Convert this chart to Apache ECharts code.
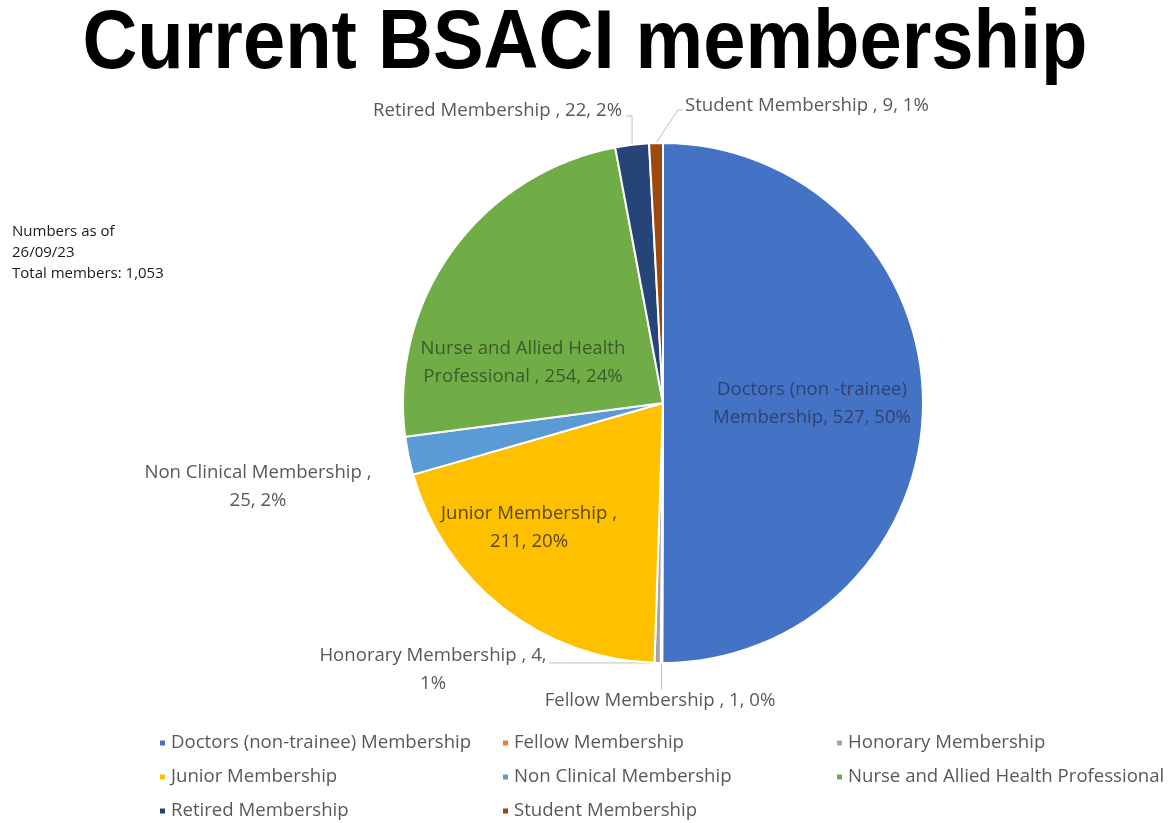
<!DOCTYPE html>
<html>
<head>
<meta charset="utf-8">
<script src="https://cdn.jsdelivr.net/npm/echarts@6/dist/echarts.min.js"></script>
<style>
html,body{margin:0;padding:0;background:#fff;}
#chart{width:1171px;height:823px;}
</style>
</head>
<body>
<div id="chart"></div>
<script>
const categories = [
  'Doctors (non-trainee) Membership',
  'Fellow Membership',
  'Honorary Membership',
  'Junior Membership',
  'Non Clinical Membership',
  'Nurse and Allied Health Professional',
  'Retired Membership',
  'Student Membership'
];
const values = [527, 1, 4, 211, 25, 254, 22, 9];
const colors = ['#4472C4', '#ED7D31', '#A5A5A5', '#FFC000', '#5B9BD5', '#70AD47', '#264478', '#9E480E'];
const labelNames = [
  'Doctors (non -trainee)\nMembership',
  'Fellow Membership ',
  'Honorary Membership ',
  'Junior Membership ',
  'Non Clinical Membership ',
  'Nurse and Allied Health\nProfessional ',
  'Retired Membership ',
  'Student Membership '
];
const sepAfterName = [', ', ', ', ', ', ',\n', ',\n', ', ', ', ', ', '];
const sepAfterValue = [', ', ', ', ',\n', ', ', ', ', ', ', ', ', ', '];
const noteText = 'Numbers as of\n26/09/23\nTotal members: 1,053';
const titleText = 'Current BSACI membership';

// label placement (layout only)
const insideIdx = [0, 3, 5];
const labelColors = {0: '#2E4373', 3: '#5A4812', 5: '#3C5A2A'};
const labelSpots = [
  {x: 812, y: 404, align: 'center'},
  {x: 660, y: 701, align: 'center', line: a => [[a[0], 680], [a[0], 690]]},
  {x: 433, y: 670, align: 'center', line: a => [[600, a[1]], [549, a[1]]]},
  {x: 529, y: 528, align: 'center'},
  {x: 258, y: 487, align: 'center'},
  {x: 523, y: 363, align: 'center'},
  {x: 622, y: 111, align: 'right', line: a => [[a[0], 116], [626, 116]]},
  {x: 685, y: 106, align: 'left', line: a => [[678, 110], [683, 110]]}
];

const data = categories.map((n, i) => {
  const inside = insideIdx.indexOf(i) >= 0;
  return {
    name: n,
    value: values[i],
    itemStyle: {color: colors[i]},
    label: {
      position: inside ? 'inside' : 'outside',
      color: inside ? labelColors[i] : '#595959'
    },
    labelLine: {show: !inside && i !== 4}
  };
});

const chart = echarts.init(document.getElementById('chart'), null, {renderer: 'canvas'});
const legendText = {fontFamily: 'Open Sans', fontSize: 18.6, color: '#595959', lineHeight: 20};
function colLegend(names, left) {
  return {
    orient: 'vertical', left: left, top: 733, height: 100, padding: 0,
    itemWidth: 7, itemHeight: 7, itemGap: 14,
    icon: 'rect', data: names, textStyle: legendText, selectedMode: false
  };
}
chart.setOption({
  animation: false,
  backgroundColor: '#fff',
  graphic: [{
    type: 'text', x: 585, y: 45, scaleY: 1.1,
    style: {
      text: titleText, x: 0, y: 0, align: 'center', verticalAlign: 'middle',
      font: 'bold 76px "Liberation Sans"', fill: '#000'
    }
  }, {
    type: 'text', left: 12, top: 221,
    style: {text: noteText, font: '15px "Open Sans"', fill: '#1A1A1A', lineHeight: 21}
  }],
  legend: [
    colLegend([categories[0], categories[3], categories[6]], 158),
    colLegend([categories[1], categories[4], categories[7]], 501),
    colLegend([categories[2], categories[5]], 835)
  ],
  series: [{
    type: 'pie',
    center: [663, 403],
    radius: 260,
    startAngle: 90,
    clockwise: true,
    avoidLabelOverlap: false,
    percentPrecision: 0,
    itemStyle: {borderColor: '#fff', borderWidth: 2},
    label: {
      fontFamily: 'Open Sans', fontSize: 18.6, lineHeight: 28,
      formatter: p => labelNames[p.dataIndex] + sepAfterName[p.dataIndex] + p.value + sepAfterValue[p.dataIndex] + p.percent + '%'
    },
    labelLine: {lineStyle: {color: '#BFBFBF', width: 1}, length: 10, length2: 10},
    labelLayout: function (p) {
      const s = labelSpots[p.dataIndex];
      const out = {x: s.x, y: s.y, align: s.align, verticalAlign: 'middle'};
      if (s.line && p.labelLinePoints) {
        const a = p.labelLinePoints[0];
        out.labelLinePoints = [a].concat(s.line(a));
      }
      return out;
    },
    emphasis: {disabled: true},
    data: data
  }]
});
</script>
</body>
</html>
